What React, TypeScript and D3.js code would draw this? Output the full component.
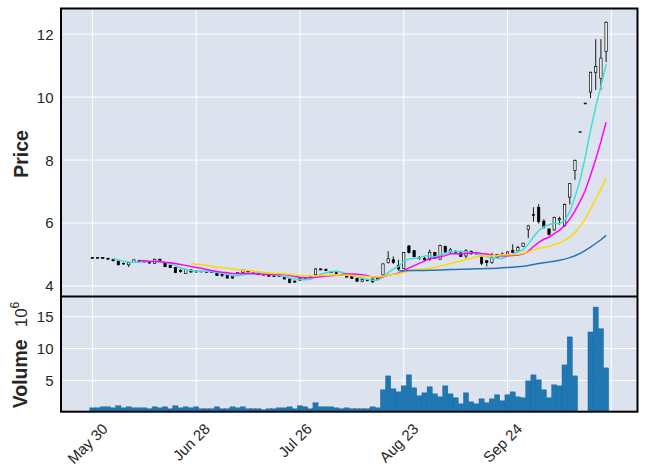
import React, { useRef, useEffect } from 'react';
import * as d3 from 'd3';

// daily OHLC (price)
const opens = [
  4.90, 4.90, 4.90, 4.88, 4.84, 4.79, 4.71, 4.67, 4.74, 4.80,
  4.78, 4.75, 4.72, 4.85, 4.72, 4.66, 4.59, 4.49, 4.40, 4.51,
  4.46, 4.47, 4.46, 4.45, 4.43, 4.36, 4.35, 4.33, 4.41, 4.42,
  4.47, 4.42, 4.39, 4.37, 4.35, 4.34, 4.33, 4.30, 4.22, 4.15,
  4.18, 4.26, 4.30, 4.36, 4.54, 4.53, 4.46, 4.42, 4.36, 4.33,
  4.30, 4.24, 4.15, 4.18, 4.22, 4.22, 4.35, 4.75, 4.83, 4.65,
  4.56, 5.27, 5.12, 4.91, 4.88, 4.84, 5.06, 4.85, 5.25, 5.08,
  5.10, 5.05, 4.95, 5.10, 5.02, 4.93, 4.80, 4.74, 4.91, 5.00,
  5.00, 5.13, 5.11, 5.26, 5.80, 6.27, 6.50, 6.06, 5.81, 5.78,
  6.10, 5.91, 6.82, 7.67, 8.90, 9.81, 10.16, 10.79, 10.60, 11.45
];
const highs = [
  4.91, 4.92, 4.91, 4.89, 4.85, 4.80, 4.74, 4.76, 4.84, 4.82,
  4.79, 4.77, 4.86, 4.86, 4.73, 4.67, 4.60, 4.53, 4.54, 4.52,
  4.50, 4.49, 4.48, 4.47, 4.44, 4.40, 4.36, 4.34, 4.44, 4.52,
  4.49, 4.43, 4.41, 4.38, 4.36, 4.35, 4.35, 4.31, 4.23, 4.18,
  4.25, 4.28, 4.32, 4.56, 4.56, 4.55, 4.47, 4.44, 4.38, 4.34,
  4.31, 4.25, 4.23, 4.22, 4.23, 4.26, 4.72, 5.10, 4.94, 4.83,
  5.08, 5.30, 5.14, 4.95, 4.92, 5.16, 5.08, 5.31, 5.28, 5.20,
  5.13, 5.07, 5.17, 5.13, 5.06, 4.95, 4.82, 5.05, 5.00, 5.06,
  5.10, 5.32, 5.27, 5.37, 5.94, 6.50, 6.60, 6.12, 5.83, 6.20,
  6.20, 6.62, 7.27, 8.02, 8.90, 9.81, 10.81, 11.84, 11.84, 12.40
];
const lows = [
  4.88, 4.89, 4.87, 4.82, 4.78, 4.66, 4.68, 4.60, 4.73, 4.77,
  4.75, 4.71, 4.71, 4.76, 4.60, 4.57, 4.41, 4.42, 4.39, 4.43,
  4.42, 4.44, 4.43, 4.42, 4.32, 4.28, 4.23, 4.23, 4.40, 4.41,
  4.45, 4.37, 4.35, 4.33, 4.29, 4.29, 4.29, 4.21, 4.08, 4.09,
  4.16, 4.24, 4.28, 4.35, 4.50, 4.47, 4.41, 4.38, 4.33, 4.27,
  4.22, 4.13, 4.12, 4.15, 4.10, 4.20, 4.33, 4.71, 4.70, 4.50,
  4.54, 5.03, 4.91, 4.83, 4.81, 4.80, 4.86, 4.83, 5.04, 5.04,
  5.03, 4.92, 4.88, 4.99, 5.00, 4.66, 4.62, 4.70, 4.89, 4.97,
  4.98, 5.05, 5.08, 5.24, 5.52, 6.04, 5.98, 5.83, 5.60, 5.76,
  5.94, 5.88, 6.59, 7.37, 8.90, 9.81, 9.97, 10.23, 10.23, 11.11
];
const closes = [
  4.89, 4.90, 4.89, 4.86, 4.80, 4.67, 4.72, 4.74, 4.83, 4.79,
  4.77, 4.74, 4.85, 4.77, 4.61, 4.58, 4.42, 4.47, 4.53, 4.44,
  4.47, 4.46, 4.45, 4.44, 4.33, 4.35, 4.25, 4.25, 4.42, 4.51,
  4.46, 4.39, 4.37, 4.35, 4.31, 4.30, 4.32, 4.22, 4.11, 4.14,
  4.24, 4.27, 4.30, 4.54, 4.51, 4.49, 4.42, 4.40, 4.35, 4.28,
  4.24, 4.15, 4.21, 4.19, 4.13, 4.24, 4.70, 4.86, 4.75, 4.54,
  5.06, 5.06, 4.93, 4.89, 4.83, 5.07, 4.88, 5.29, 5.08, 5.15,
  5.06, 4.94, 5.12, 5.02, 5.04, 4.72, 4.74, 4.88, 5.00, 5.02,
  5.08, 5.07, 5.22, 5.36, 5.91, 6.25, 6.04, 5.87, 5.64, 6.18,
  6.14, 6.59, 7.25, 7.99, 8.90, 9.81, 10.79, 10.97, 11.24, 12.38
];
// volume in millions, null where the bar is missing
const volumes: (number | null)[] = [
  0.73, 0.73, 0.89, 0.89, 0.73, 1.05, 0.73, 0.89, 0.73, 0.73,
  0.73, 0.58, 0.89, 0.73, 0.89, 0.58, 1.05, 0.73, 0.89, 0.73,
  0.89, 0.58, 0.58, 0.58, 0.89, 0.58, 0.58, 0.89, 0.73, 0.89,
  0.58, 0.58, 0.58, 0.42, 0.58, 0.58, 0.73, 0.73, 0.89, 0.58,
  1.05, 0.89, 0.58, 1.52, 0.89, 0.89, 0.89, 0.73, 0.58, 0.73,
  0.58, 0.58, 0.58, 0.58, 0.89, 0.73, 3.55, 5.73, 3.70, 3.23,
  4.17, 5.89, 3.86, 2.61, 3.08, 4.02, 2.92, 2.45, 4.17, 2.92,
  2.30, 1.36, 3.08, 1.67, 1.36, 2.14, 1.52, 2.14, 2.77, 1.83,
  2.77, 3.23, 2.45, 2.30, 4.95, 5.89, 5.11, 3.55, 2.30, 4.33,
  4.17, 7.45, 11.83, 5.73, null, null, 12.6, 16.5, 13.1, 6.98
];

const mavPeriods = [5, 10, 20, 60];
const mavColors = ['#40e0d0', '#ff00ff', '#ffd700', '#1f77b4'];
const xTickIndex = [0, 20, 40, 60, 80, 100];
const xTickLabels = ['May 30', 'Jun 28', 'Jul 26', 'Aug 23', 'Sep 24', ''];
const priceTicks = [4, 6, 8, 10, 12];
const volumeTicks = [5, 10, 15];

export default function App(): JSX.Element {
  const svgRef = useRef<SVGSVGElement>(null);
  useEffect(() => {
    if (svgRef.current == null) {
      return;
    }
    const svg = d3.select(svgRef.current);
    svg.selectAll('*').remove();

    const font = '"Liberation Sans", Arial, sans-serif';
    const left = 61;
    const right = 637.5;
    const top = 8.5;
    const mid = 296.5;
    const bottom = 411.7;
    const bg = '#dce3ef';

    const n = closes.length;
    const xPad = 0.05 * (n + 1);
    const x = d3.scaleLinear().domain([-1 - xPad, n + xPad]).range([left, right]);
    const step = x(1) - x(0);

    const lo = d3.min(lows) as number;
    const hi = d3.max(highs) as number;
    const yPad = 0.05 * (hi - lo);
    const y = d3.scaleLinear().domain([lo - yPad, hi + yPad]).range([mid, top]);

    const vVals = volumes.filter((v) => v != null) as number[];
    const yv = d3
      .scaleLinear()
      .domain([0.3 * (d3.min(vVals) as number), 1.1 * (d3.max(vVals) as number)])
      .range([bottom, mid]);

    // panel backgrounds
    svg.append('rect').attr('x', left).attr('y', top).attr('width', right - left).attr('height', mid - top).attr('fill', bg);
    svg.append('rect').attr('x', left).attr('y', mid).attr('width', right - left).attr('height', bottom - mid).attr('fill', bg);

    // grid
    const grid = svg.append('g').attr('stroke', '#ffffff').attr('stroke-width', 1);
    grid
      .selectAll('line.vx')
      .data(xTickIndex)
      .join('line')
      .attr('x1', (d) => x(d))
      .attr('x2', (d) => x(d))
      .attr('y1', top)
      .attr('y2', bottom);
    grid
      .selectAll('line.hp')
      .data(priceTicks)
      .join('line')
      .attr('class', 'hp')
      .attr('x1', left)
      .attr('x2', right)
      .attr('y1', (d) => y(d))
      .attr('y2', (d) => y(d));
    grid
      .selectAll('line.hv')
      .data(volumeTicks)
      .join('line')
      .attr('class', 'hv')
      .attr('x1', left)
      .attr('x2', right)
      .attr('y1', (d) => yv(d))
      .attr('y2', (d) => yv(d));

    const idx = d3.range(n);

    // volume bars
    svg
      .append('g')
      .selectAll('rect')
      .data(idx.filter((i) => volumes[i] != null))
      .join('rect')
      .attr('x', (i) => x(i) - step / 2)
      .attr('width', step)
      .attr('y', (i) => yv(volumes[i] as number))
      .attr('height', (i) => bottom - yv(volumes[i] as number))
      .attr('fill', '#1f77b4')
      .attr('stroke', '#1b639a')
      .attr('stroke-width', 0.4);

    // wicks
    svg
      .append('g')
      .selectAll('line')
      .data(idx)
      .join('line')
      .attr('x1', (i) => x(i))
      .attr('x2', (i) => x(i))
      .attr('y1', (i) => y(highs[i]))
      .attr('y2', (i) => y(lows[i]))
      .attr('stroke', '#000')
      .attr('stroke-width', 0.9);

    // candle bodies
    const bw = step * 0.45;
    svg
      .append('g')
      .selectAll('rect')
      .data(idx)
      .join('rect')
      .attr('x', (i) => x(i) - bw / 2)
      .attr('width', bw)
      .attr('y', (i) => y(Math.max(opens[i], closes[i])))
      .attr('height', (i) => Math.max(Math.abs(y(opens[i]) - y(closes[i])), 0.8))
      .attr('fill', (i) => (closes[i] >= opens[i] ? '#ffffff' : '#000000'))
      .attr('stroke', '#000')
      .attr('stroke-width', 0.7);

    // moving averages
    mavPeriods.forEach((p, k) => {
      const pts = idx
        .filter((i) => i >= p - 1)
        .map((i) => [i, (d3.mean(closes.slice(i - p + 1, i + 1)) as number)] as [number, number]);
      svg
        .append('path')
        .datum(pts)
        .attr('fill', 'none')
        .attr('stroke', mavColors[k])
        .attr('stroke-width', 1.5)
        .attr(
          'd',
          d3
            .line<[number, number]>()
            .x((d) => x(d[0]))
            .y((d) => y(d[1]))
        );
    });

    // frame
    svg
      .append('rect')
      .attr('x', left)
      .attr('y', top)
      .attr('width', right - left)
      .attr('height', bottom - top)
      .attr('fill', 'none')
      .attr('stroke', '#000')
      .attr('stroke-width', 2);
    svg.append('line').attr('x1', left).attr('x2', right).attr('y1', mid).attr('y2', mid).attr('stroke', '#000').attr('stroke-width', 2);

    // y tick labels
    svg
      .append('g')
      .selectAll('text')
      .data(priceTicks)
      .join('text')
      .attr('x', left - 7.5)
      .attr('y', (d) => y(d))
      .attr('text-anchor', 'end')
      .attr('dominant-baseline', 'central')
      .style('font-family', font)
      .style('font-size', '15px')
      .attr('fill', '#262626')
      .text((d) => d);
    svg
      .append('g')
      .selectAll('text')
      .data(volumeTicks)
      .join('text')
      .attr('x', left - 7.5)
      .attr('y', (d) => yv(d))
      .attr('text-anchor', 'end')
      .attr('dominant-baseline', 'central')
      .style('font-family', font)
      .style('font-size', '15px')
      .attr('fill', '#262626')
      .text((d) => d);

    // x tick labels, rotated 45 and centred under the tick
    svg
      .append('g')
      .selectAll('text')
      .data(xTickIndex.map((t, k) => ({ t, label: xTickLabels[k] })).filter((d) => d.label !== ''))
      .join('text')
      .attr('text-anchor', 'middle')
      .attr('dominant-baseline', 'central')
      .style('font-family', font)
      .style('font-size', '15px')
      .attr('fill', '#262626')
      .text((d) => d.label)
      .each(function (d) {
        const len = (this as SVGTextElement).getComputedTextLength();
        const half = ((len + 15) * Math.SQRT1_2) / 2;
        d3.select(this).attr('transform', `translate(${x(d.t) - 5},${bottom + 9 + half}) rotate(-45)`);
      });

    // axis labels
    svg
      .append('text')
      .attr('transform', `translate(27.5,154) rotate(-90)`)
      .attr('text-anchor', 'middle')
      .style('font-family', font)
      .style('font-size', '19.5px')
      .style('font-weight', 'bold')
      .attr('fill', '#262626')
      .text('Price');
    const vl = svg
      .append('text')
      .attr('transform', `translate(27,355) rotate(-90)`)
      .attr('text-anchor', 'middle')
      .style('font-family', font)
      .attr('fill', '#262626');
    vl.append('tspan').style('font-size', '19.5px').style('font-weight', 'bold').text('Volume');
    vl.append('tspan').attr('dx', 12).style('font-size', '17px').text('10');
    vl.append('tspan').attr('dy', -8).style('font-size', '12px').text('6');
  }, []);
  return <svg ref={svgRef} width={646} height={476} style={{ position: 'absolute', left: 0, top: 0 }} />;
}
